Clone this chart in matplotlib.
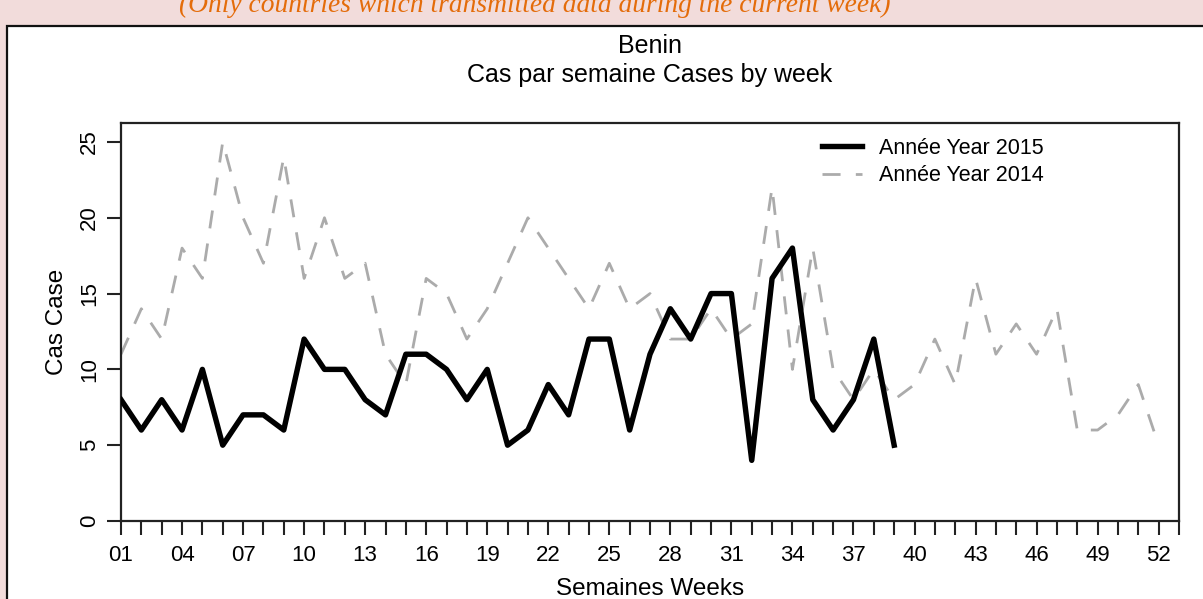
import matplotlib
matplotlib.use('Agg')
import matplotlib.pyplot as plt
from matplotlib.patches import Rectangle

# Données (Benin)
semaines_2015 = list(range(1, 40))
cas_2015 = [8, 6, 8, 6, 10, 5, 7, 7, 6, 12, 10, 10, 8, 7, 11, 11, 10, 8, 10, 5,
            6, 9, 7, 12, 12, 6, 11, 14, 12, 15, 15, 4, 16, 18, 8, 6, 8, 12, 5]

semaines_2014 = list(range(1, 53))
cas_2014 = [11, 14, 12, 18, 16, 25, 20, 17, 24, 16, 20, 16, 17, 11, 9, 16, 15, 12, 14, 17,
            20, 18, 16, 14, 17, 14, 15, 12, 12, 14, 12, 13, 22, 10, 18, 10, 8, 10, 8, 9,
            12, 9, 16, 11, 13, 11, 14, 6, 6, 7, 9, 5]

xticks_lbl = list(range(1, 53, 3))
yticks = [0, 5, 10, 15, 20, 25]

W, H = 1203, 599
plt.rcParams['font.family'] = ['Liberation Sans', 'DejaVu Sans']
plt.rcParams['lines.scale_dashes'] = False

fig = plt.figure(figsize=(W / 100, H / 100), dpi=100, facecolor='#F2DCDB')

# cadre blanc
fig.patches.append(Rectangle((7 / W, -0.1), 1.2, (H - 26) / H + 0.1, transform=fig.transFigure,
                             facecolor='white', edgecolor='#111111', linewidth=1.6, zorder=-10))

fig.text(535 / W, (H - 12) / H, '(Only countries which transmitted data during the current week)',
         ha='center', va='baseline', color='#E46C0A', fontsize=19.8, style='italic',
         family='Liberation Serif')

ax = fig.add_axes([121 / W, 78 / H, 1058 / W, 398 / H])
ax.plot(semaines_2015, cas_2015, color='black', linewidth=3.9, solid_joinstyle='round',
        label='Année Year 2015', zorder=3)
ax.plot(semaines_2014, cas_2014, color='#ABABAB', linewidth=2.0, dashes=(13, 11),
        label='Année Year 2014', zorder=2)

ax.set_xlim(1, 53)
ax.set_ylim(0, 26.25)
ax.set_xticks(range(1, 54), minor=True)
ax.set_xticks(xticks_lbl)
ax.set_xticklabels(['%02d' % w for w in xticks_lbl])
ax.set_yticks(yticks)
ax.set_yticklabels([str(v) for v in yticks], rotation=90, va='center')
ax.tick_params(axis='x', which='both', length=10, width=1.5, color='#222222', pad=7.5,
               labelsize=16)
ax.tick_params(axis='y', length=10, width=1.5, color='#222222', pad=5, labelsize=16)
for s in ax.spines.values():
    s.set_linewidth(1.6)
    s.set_color('#222222')

ax.set_xlabel('Semaines Weeks', fontsize=17.5)
ax.xaxis.set_label_coords(0.5, -0.143)
ax.set_ylabel('Cas Case', fontsize=17.5)
ax.yaxis.set_label_coords(-0.05, 0.5)

fig.text(650 / W, (H - 46) / H, 'Benin', ha='center', va='center', fontsize=18)
fig.text(650 / W, (H - 75) / H, 'Cas par semaine Cases by week', ha='center', va='center',
         fontsize=18)

ax.legend(loc='upper left', bbox_to_anchor=(822 / W, (H - 138) / H),
          bbox_transform=fig.transFigure, frameon=False, fontsize=15.5, borderpad=0,
          borderaxespad=0, handlelength=1.85, handletextpad=0.8, labelspacing=0.3)

fig.savefig('out.png', dpi=100, facecolor=fig.get_facecolor())
